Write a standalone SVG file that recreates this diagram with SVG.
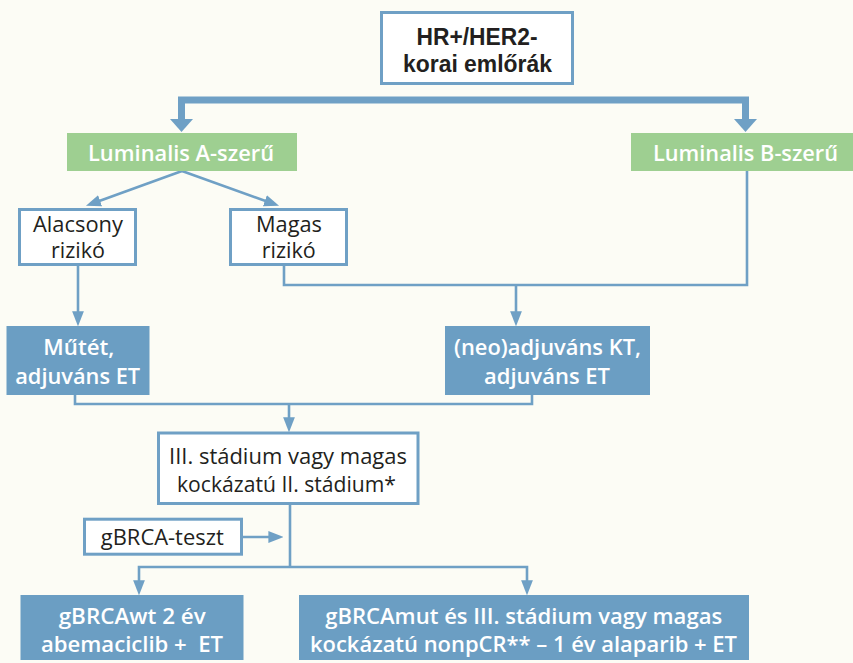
<svg xmlns="http://www.w3.org/2000/svg" width="853" height="663" viewBox="0 0 853 663">
<defs>
<style>
.bg{fill:#fcfcf5}
.ob{fill:#ffffff;stroke:#6fa0c5;stroke-width:3}
.gr{fill:#9ecf91}
.bl{fill:#6b9ec3}
.ln{fill:none;stroke:#6fa0c5;stroke-width:2.6}
.thick{fill:none;stroke:#6fa0c5;stroke-width:7}
.ah{fill:#6fa0c5}
text{font-family:"Open Sans","Noto Sans","Liberation Sans",sans-serif;text-anchor:middle}
.dk{fill:#231f20;font-size:21px}
.dkb{fill:#231f20;font-size:24px;font-weight:700;font-family:"Liberation Sans",Arial,sans-serif}
.wt{fill:#ffffff;font-size:22px;font-weight:600}
</style>
<marker id="arr" markerUnits="userSpaceOnUse" markerWidth="15" markerHeight="12" viewBox="0 0 14 11" refX="9" refY="5.5" orient="auto">
<path d="M0,0 L14,5.5 L0,11 z" fill="#6fa0c5"/>
</marker>
</defs>
<rect class="bg" x="0" y="0" width="853" height="663"/>

<g id="connectors">
<path class="thick" d="M181.5,121 V100 H745.5 V121"/>
<polygon class="ah" points="170,119 193,119 181.5,132"/>
<polygon class="ah" points="734,119 757,119 745.5,132"/>
<path class="ln" d="M182,171 L91,204" marker-end="url(#arr)"/>
<path class="ln" d="M182,171 L274,204" marker-end="url(#arr)"/>
<path class="ln" d="M78,266 V321" marker-end="url(#arr)"/>
<path class="ln" d="M284,266 V285 H747 V171"/>
<path class="ln" d="M516,285 V321" marker-end="url(#arr)"/>
<path class="ln" d="M75,395 V404 H532 V395"/>
<path class="ln" d="M289,404 V427" marker-end="url(#arr)"/>
<path class="ln" d="M290,504 V567"/>
<path class="ln" d="M290,567 H139 V590" marker-end="url(#arr)"/>
<path class="ln" d="M290,567 H527 V590" marker-end="url(#arr)"/>
<path class="ln" d="M243,537 H278" marker-end="url(#arr)"/>
</g>

<g id="n-top">
<rect class="ob" x="381.5" y="12.5" width="191" height="71"/>
<text class="dkb" x="477" y="44.5" textLength="121" lengthAdjust="spacingAndGlyphs">HR+/HER2-</text>
<text class="dkb" x="477.5" y="71.5" textLength="149" lengthAdjust="spacingAndGlyphs">korai emlőrák</text>
</g>

<g id="n-lumA">
<rect class="gr" x="67" y="133" width="230" height="38"/>
<text class="wt" x="181" y="161" textLength="186" lengthAdjust="spacingAndGlyphs">Luminalis A-szerű</text>
</g>

<g id="n-lumB">
<rect class="gr" x="631" y="133" width="222" height="38"/>
<text class="wt" x="745.5" y="161" textLength="185" lengthAdjust="spacingAndGlyphs">Luminalis B-szerű</text>
</g>

<g id="n-low">
<rect class="ob" x="19.5" y="209.5" width="116" height="55"/>
<text class="dk" x="78" y="232" textLength="90" lengthAdjust="spacingAndGlyphs">Alacsony</text>
<text class="dk" x="78" y="258" textLength="54" lengthAdjust="spacingAndGlyphs">rizikó</text>
</g>

<g id="n-high">
<rect class="ob" x="230.5" y="209.5" width="116" height="55"/>
<text class="dk" x="289" y="232" textLength="66" lengthAdjust="spacingAndGlyphs">Magas</text>
<text class="dk" x="288.7" y="258" textLength="54" lengthAdjust="spacingAndGlyphs">rizikó</text>
</g>

<g id="n-mutet">
<rect class="bl" x="6.5" y="326" width="143" height="69"/>
<text class="wt" x="78.8" y="355" textLength="71" lengthAdjust="spacingAndGlyphs">Műtét,</text>
<text class="wt" x="77.7" y="383.5" textLength="125" lengthAdjust="spacingAndGlyphs">adjuváns ET</text>
</g>

<g id="n-neo">
<rect class="bl" x="445" y="326" width="205" height="69"/>
<text class="wt" x="547.5" y="355" textLength="187" lengthAdjust="spacingAndGlyphs">(neo)adjuváns KT,</text>
<text class="wt" x="547" y="383.5" textLength="126" lengthAdjust="spacingAndGlyphs">adjuváns ET</text>
</g>

<g id="n-stage">
<rect class="ob" x="158.5" y="433" width="259.5" height="70.5"/>
<text class="dk" x="288" y="463.5" textLength="238" lengthAdjust="spacingAndGlyphs">III. stádium vagy magas</text>
<text class="dk" x="286.5" y="492" textLength="219" lengthAdjust="spacingAndGlyphs">kockázatú II. stádium*</text>
</g>

<g id="n-test">
<rect class="ob" x="84.5" y="519.2" width="157" height="35"/>
<text class="dk" x="162.3" y="545" textLength="123" lengthAdjust="spacingAndGlyphs">gBRCA-teszt</text>
</g>

<g id="n-wt">
<rect class="bl" x="20.5" y="595" width="223" height="65"/>
<text class="wt" x="132.2" y="623.5" textLength="147" lengthAdjust="spacingAndGlyphs">gBRCAwt 2 év</text>
<text class="wt" x="132" y="652" textLength="182" lengthAdjust="spacingAndGlyphs" style="white-space:pre">abemaciclib +  ET</text>
</g>

<g id="n-mut">
<rect class="bl" x="299" y="595" width="450" height="65"/>
<text class="wt" x="523.7" y="623.5" textLength="397" lengthAdjust="spacingAndGlyphs">gBRCAmut és III. stádium vagy magas</text>
<text class="wt" x="523.5" y="652" textLength="427" lengthAdjust="spacingAndGlyphs">kockázatú nonpCR** – 1 év alaparib + ET</text>
</g>
</svg>
